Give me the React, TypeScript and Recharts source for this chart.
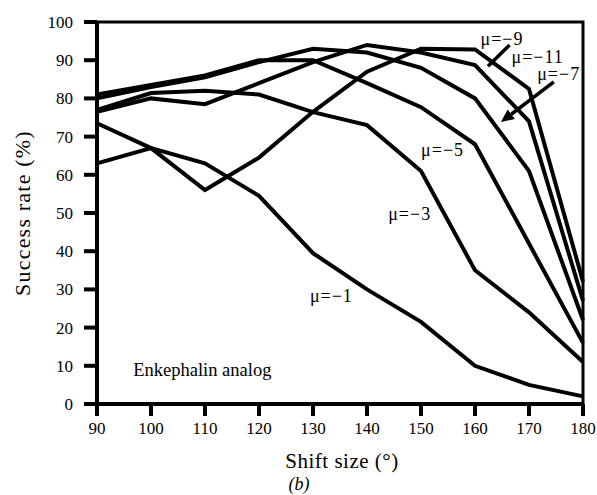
import React from 'react';
import { LineChart, Line, XAxis, YAxis, ReferenceArea, ReferenceLine, ReferenceDot } from 'recharts';

const shiftSizes = [90, 100, 110, 120, 130, 140, 150, 160, 170, 180];
const yTicks = [0, 10, 20, 30, 40, 50, 60, 70, 80, 90, 100];

const mu1 = [63, 67, 63, 54.5, 39.5, 30, 21.5, 10, 5, 2];
const mu3 = [77, 81.4, 82, 81, 76.4, 73, 61, 35, 24, 11];
const mu5 = [81, 83.5, 86, 90, 90, 84, 77.7, 68, 42, 16];
const mu7 = [80, 83, 85.5, 89.5, 93, 92, 88, 80, 61, 22];
const mu9 = [76.5, 80, 78.5, 84, 89.5, 94, 92, 88.7, 74, 27];
const mu11 = [73.5, 67, 56, 64.5, 76.5, 87, 93, 92.8, 82.5, 32];

const seriesKeys = ['m1', 'm3', 'm5', 'm7', 'm9', 'm11'];
const seriesValues = [mu1, mu3, mu5, mu7, mu9, mu11];

const data = shiftSizes.map((x, i) => {
  const row: any = { x };
  seriesKeys.forEach((k, j) => { row[k] = seriesValues[j][i]; });
  return row;
});

const seriesLabels = [
  { text: 'μ=−9', x: 165, y: 95.6 },
  { text: 'μ=−11', x: 171.6, y: 90.8 },
  { text: 'μ=−7', x: 175.5, y: 86.4 },
  { text: 'μ=−5', x: 154, y: 66.5 },
  { text: 'μ=−3', x: 147.9, y: 49.7 },
  { text: 'μ=−1', x: 133.4, y: 28.3 },
];

const arrows = [
  { from: { x: 166.4, y: 94 }, to: { x: 162.4, y: 88.4 }, head: false },
  { from: { x: 174.6, y: 84.3 }, to: { x: 164.8, y: 73.8 }, head: true },
];

const FONT = 'Liberation Serif, Times New Roman, serif';

const ArrowShape = (head: boolean) => (p: any) => {
  const { x1, y1, x2, y2 } = p;
  const ang = Math.atan2(y2 - y1, x2 - x1);
  const L = 13, W = 6;
  const bx = x2 - L * Math.cos(ang), by = y2 - L * Math.sin(ang);
  const nx = -Math.sin(ang), ny = Math.cos(ang);
  return (
    <g>
      <line x1={x1} y1={y1} x2={head ? bx : x2} y2={head ? by : y2} stroke="#000" strokeWidth={3.5} />
      {head && (
        <polygon
          points={`${x2},${y2} ${bx + nx * W},${by + ny * W} ${bx - nx * W},${by - ny * W}`}
          fill="#000"
        />
      )}
    </g>
  );
};

const TextShape = (text: string, size: number, spacing: number) => (p: any) => (
  <text x={p.cx} y={p.cy} textAnchor="middle" dominantBaseline="central" fontFamily={FONT} fontSize={size} letterSpacing={spacing} fill="#000">
    {text}
  </text>
);

export default function App() {
  return (
    <div style={{ position: 'absolute', left: 0, top: 0, width: 597, height: 495, background: '#fff' }}>
      <LineChart width={597} height={495} data={data} margin={{ top: 22, right: 14, bottom: 0, left: 0 }}>
        <XAxis
          dataKey="x"
          type="number"
          domain={[90, 180]}
          ticks={shiftSizes}
          interval={0}
          height={91}
          tickSize={12}
          tickMargin={6}
          axisLine={{ stroke: '#000', strokeWidth: 4 }}
          tickLine={{ stroke: '#000', strokeWidth: 4 }}
          tick={{ fill: '#000', fontSize: 17, fontFamily: FONT }}
        />
        <YAxis
          type="number"
          domain={[0, 100]}
          ticks={yTicks}
          interval={0}
          width={97}
          tickSize={13}
          tickMargin={11}
          axisLine={{ stroke: '#000', strokeWidth: 4 }}
          tickLine={{ stroke: '#000', strokeWidth: 4 }}
          tick={{ fill: '#000', fontSize: 17, fontFamily: FONT }}
        />
        <ReferenceArea x1={90} x2={180} y1={0} y2={100} fill="none" stroke="#000" strokeWidth={3} />
        {seriesKeys.map((k) => (
          <Line
            key={k}
            dataKey={k}
            type="linear"
            stroke="#000"
            strokeWidth={4}
            dot={false}
            activeDot={false}
            isAnimationActive={false}
          />
        ))}
        {arrows.map((a, i) => (
          <ReferenceLine key={'a' + i} segment={[a.from, a.to]} shape={ArrowShape(a.head)} />
        ))}
        {seriesLabels.map((l) => (
          <ReferenceDot key={l.text} x={l.x} y={l.y} r={0} shape={TextShape(l.text, 18, 1)} />
        ))}
        <ReferenceDot x={109.5} y={8.9} r={0} shape={TextShape('Enkephalin analog', 18.5, 0)} />
      </LineChart>
      <svg width={597} height={495} style={{ position: 'absolute', left: 0, top: 0, pointerEvents: 'none' }}>
        <text x={22} y={213} transform="rotate(-90 22 213)" textAnchor="middle" dominantBaseline="central" fontFamily={FONT} fontSize={22} letterSpacing={1.2} fill="#000">
          Success rate (%)
        </text>
        <text x={342} y={461} textAnchor="middle" dominantBaseline="central" fontFamily={FONT} fontSize={21} letterSpacing={0.5} fill="#000">
          Shift size (°)
        </text>
        <text x={299} y={484} textAnchor="middle" dominantBaseline="central" fontFamily={FONT} fontSize={18} fontStyle="italic" fill="#000">
          (b)
        </text>
      </svg>
    </div>
  );
}
